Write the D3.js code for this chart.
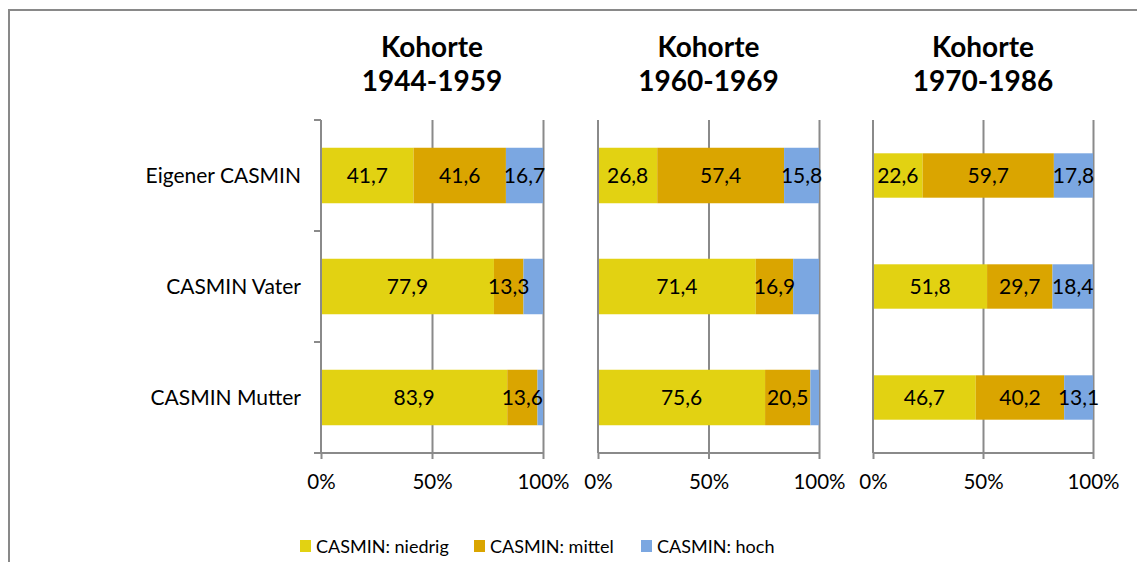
<!DOCTYPE html>
<html>
<head>
<meta charset="utf-8">
<script src="https://cdn.jsdelivr.net/npm/d3@7"></script>
<style>
  html, body { margin: 0; padding: 0; background: #fff; }
  svg { display: block; }
  text { font-family: Lato, "Open Sans", sans-serif; fill: #000; }
</style>
</head>
<body>
<svg id="chart" width="1137" height="562"></svg>
<script>
// Bildungsniveau (CASMIN) nach Kohorte, Anteile in Prozent
const categories = ["Eigener CASMIN", "CASMIN Vater", "CASMIN Mutter"];
const cohorts = ["1944-1959", "1960-1969", "1970-1986"];
const levels = ["CASMIN: niedrig", "CASMIN: mittel", "CASMIN: hoch"];

// one row per cohort, one value per category
const niedrig = [[41.7, 77.9, 83.9], [26.8, 71.4, 75.6], [22.6, 51.8, 46.7]];
const mittel  = [[41.6, 13.3, 13.6], [57.4, 16.9, 20.5], [59.7, 29.7, 40.2]];
const hoch    = [[16.7,  8.8,  2.5], [15.8, 11.7,  3.9], [17.8, 18.4, 13.1]];
// small "hoch" segments carry no value label
const hochLabelled = [[true, false, false], [true, false, false], [true, true, true]];

const xTicks = [0, 0.5, 1];
const colors = ["#E2D212", "#DAA500", "#7BA7E1"];

// layout of the three panels
const panels = [
  { x0: 321, x1: 543, pad: 0.5, yTicks: true },
  { x0: 598, x1: 819, pad: 0.5, yTicks: false },
  { x0: 873, x1: 1093, pad: 0.6, yTicks: false }
];
const plotTop = 120, plotBottom = 453;
const axisColor = "#8A8A8A";

const svg = d3.select("#chart");
const de = d3.formatLocale({ decimal: ",", thousands: ".", grouping: [3], currency: ["", " €"] });
const fmt = de.format(".1f");

// outer frame (top and left edge)
svg.append("path")
  .attr("d", "M9,562 V10 H1137")
  .attr("fill", "none")
  .attr("stroke", "#898989")
  .attr("stroke-width", 2);

panels.forEach((p, pi) => {
  const g = svg.append("g");
  const x = d3.scaleLinear().domain([0, 1]).range([p.x0, p.x1]);
  const y = d3.scaleBand().domain(categories).range([plotTop, plotBottom]).paddingInner(p.pad).paddingOuter(p.pad / 2);

  const rows = categories.map((c, ci) => ({
    cat: c, niedrig: niedrig[pi][ci], mittel: mittel[pi][ci], hoch: hoch[pi][ci], ci
  }));
  const stack = d3.stack().keys(["niedrig", "mittel", "hoch"]).offset(d3.stackOffsetExpand);
  const series = stack(rows);

  // vertical gridlines
  g.append("g")
    .attr("transform", `translate(0,${plotBottom})`)
    .call(d3.axisBottom(x).tickValues(xTicks.slice(1)).tickSize(-(plotBottom - plotTop)).tickFormat(""))
    .call(a => a.select(".domain").remove())
    .call(a => a.selectAll("line").attr("stroke", axisColor).attr("stroke-width", 2));

  // bars
  series.forEach((s, si) => {
    g.append("g").selectAll("rect")
      .data(s)
      .join("rect")
      .attr("x", d => x(d[0]))
      .attr("y", d => y(d.data.cat))
      .attr("width", d => x(d[1]) - x(d[0]))
      .attr("height", y.bandwidth())
      .attr("fill", colors[si]);
  });

  // bottom axis
  g.append("g")
    .attr("transform", `translate(0,${plotBottom})`)
    .call(d3.axisBottom(x).tickValues(xTicks).tickSize(6).tickPadding(12).tickFormat(d3.format(".0%")))
    .call(a => a.select(".domain").attr("stroke", axisColor).attr("stroke-width", 2).attr("d", `M${p.x0},0H${p.x1}`))
    .call(a => a.selectAll("line").attr("stroke", axisColor).attr("stroke-width", 2))
    .call(a => a.selectAll("text").attr("font-size", 20.5).attr("font-family", "Lato, sans-serif").attr("fill", "#000").attr("dy", "0.9em"));

  // left axis
  const yAxis = d3.axisLeft(y).tickSize(0).tickFormat("");
  const ya = g.append("g").attr("transform", `translate(${p.x0},0)`).call(yAxis);
  ya.select(".domain").attr("stroke", axisColor).attr("stroke-width", 2)
    .attr("d", `M0,${plotTop}V${plotBottom}`);
  if (p.yTicks) {
    const edges = categories.map(c => y(c) - y.step() * p.pad / 2).concat([plotBottom]);
    ya.selectAll(".edge").data(edges).join("line")
      .attr("x1", -7).attr("x2", 0).attr("y1", d => d).attr("y2", d => d)
      .attr("stroke", axisColor).attr("stroke-width", 2);
    g.selectAll(".cat").data(categories).join("text")
      .attr("x", 301)
      .attr("y", d => y(d) + y.bandwidth() / 2)
      .attr("dy", "0.35em")
      .attr("text-anchor", "end")
      .attr("font-size", 21)
      .text(d => d);
  }

  // value labels
  series.forEach((s, si) => {
    g.append("g").selectAll("text")
      .data(s.filter(d => si < 2 || hochLabelled[pi][d.data.ci]))
      .join("text")
      .attr("x", d => (x(d[0]) + x(d[1])) / 2)
      .attr("y", d => y(d.data.cat) + y.bandwidth() / 2)
      .attr("dy", "0.36em")
      .attr("text-anchor", "middle")
      .attr("font-size", 21)
      .text(d => fmt(d.data[s.key]));
  });

  // panel title
  const title = g.append("text")
    .attr("x", (p.x0 + p.x1) / 2)
    .attr("text-anchor", "middle")
    .attr("font-size", 28)
    .attr("font-weight", "bold");
  title.append("tspan").attr("x", (p.x0 + p.x1) / 2).attr("y", 57).text("Kohorte");
  title.append("tspan").attr("x", (p.x0 + p.x1) / 2).attr("y", 91).text(cohorts[pi]);
});

// legend
const legendX = [300, 474, 641];
const legend = svg.append("g");
levels.forEach((l, i) => {
  legend.append("rect").attr("x", legendX[i]).attr("y", 540).attr("width", 11).attr("height", 12).attr("fill", colors[i]);
  legend.append("text").attr("x", legendX[i] + 16).attr("y", 553).attr("font-size", 18).text(l);
});
</script>
</body>
</html>
